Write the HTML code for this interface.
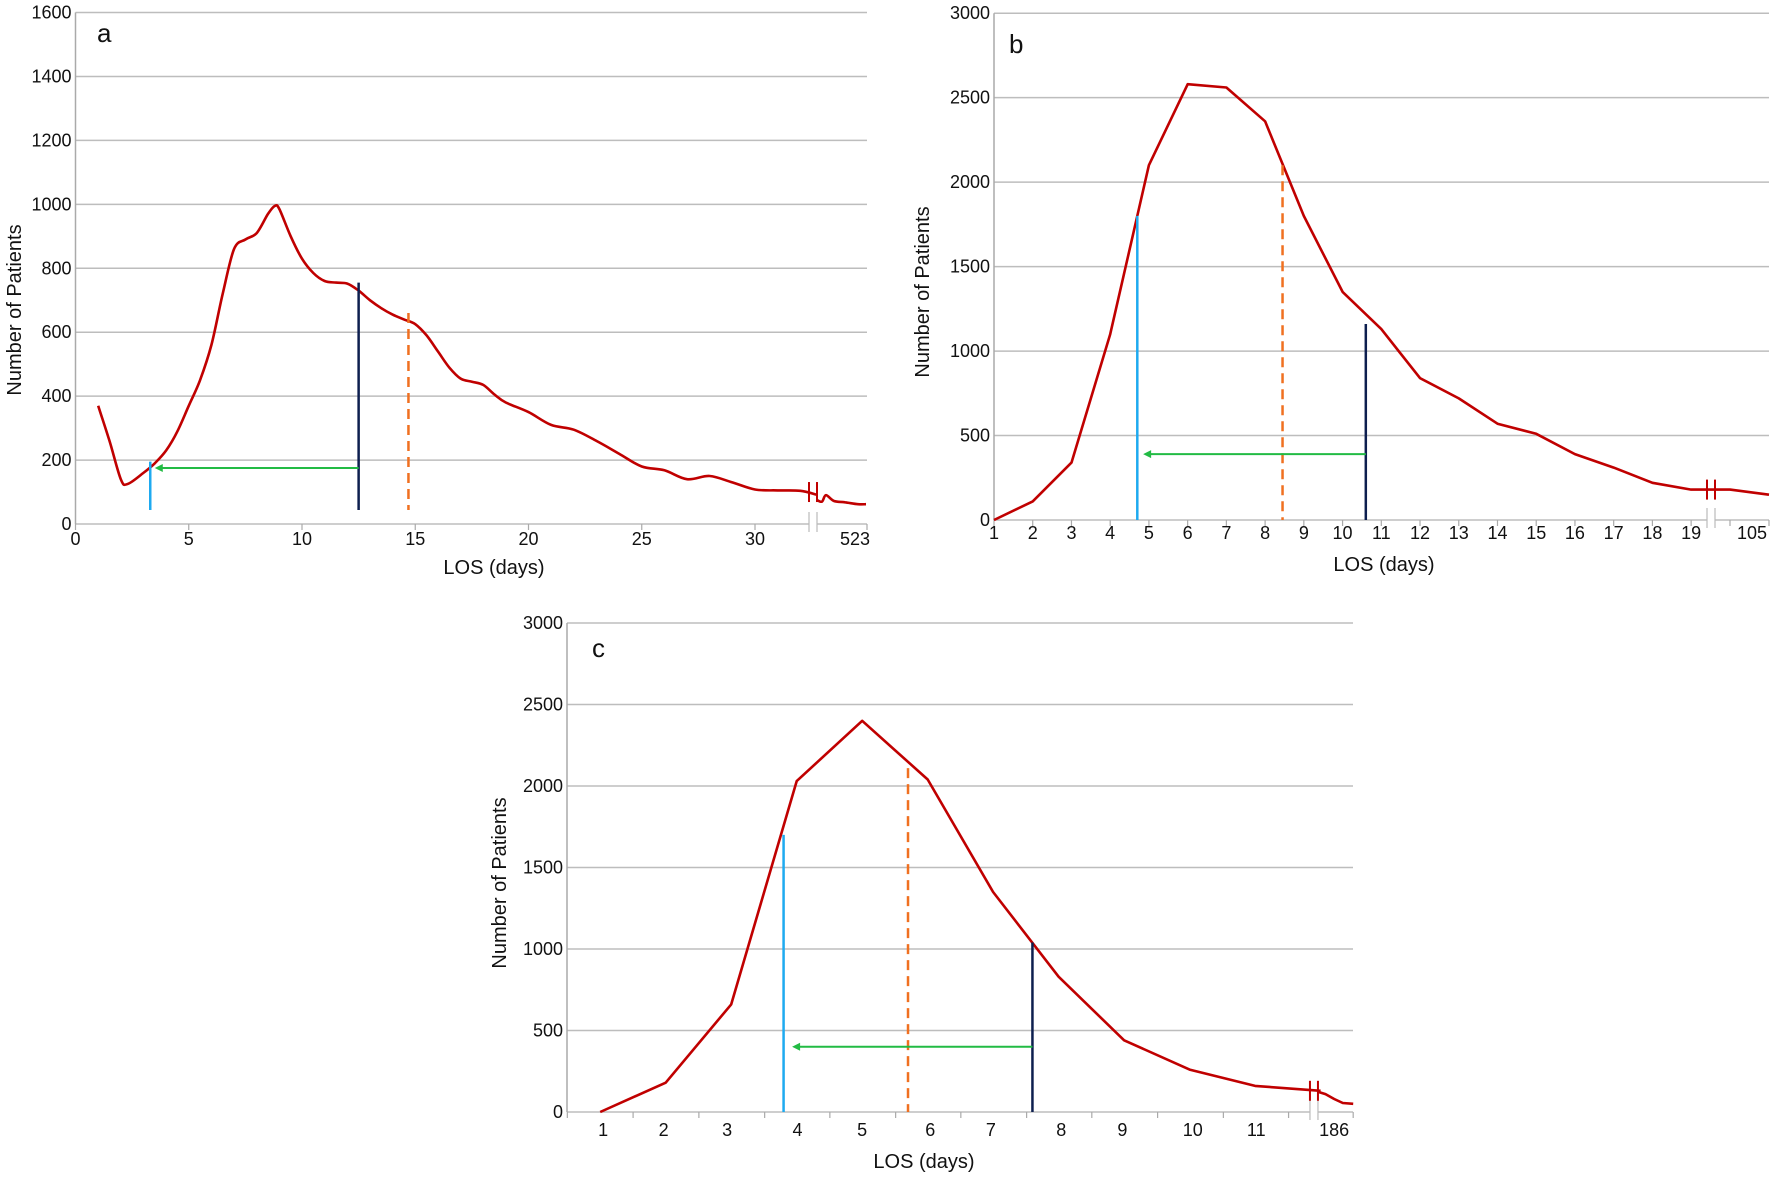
<!DOCTYPE html>
<html><head><meta charset="utf-8">
<style>
html,body{margin:0;padding:0;background:#fff;}
svg{display:block;}
text{font-family:"Liberation Sans Narrow","Liberation Sans",sans-serif;fill:#111;}
</style></head>
<body>
<svg id="s" width="1772" height="1178" viewBox="0 0 1772 1178" xmlns="http://www.w3.org/2000/svg">
<rect width="1772" height="1178" fill="#fff"/>
</svg>
<script>
const S=document.getElementById('s');let h='';
function smooth(a){let d='M'+a[0][0].toFixed(1)+' '+a[0][1].toFixed(1);
  for(let i=0;i<a.length-1;i++){const p0=a[i-1]||a[i],p1=a[i],p2=a[i+1],p3=a[i+2]||p2;
    const c1=[p1[0]+(p2[0]-p0[0])/6,p1[1]+(p2[1]-p0[1])/6],c2=[p2[0]-(p3[0]-p1[0])/6,p2[1]-(p3[1]-p1[1])/6];
    d+=` C${c1[0].toFixed(1)} ${c1[1].toFixed(1)} ${c2[0].toFixed(1)} ${c2[1].toFixed(1)} ${p2[0].toFixed(1)} ${p2[1].toFixed(1)}`;}
  return d;}
function P(c){
  const X=v=>c.xa+(v-c.x0)*c.xs, Y=v=>c.yb-(v/c.ymax)*(c.yb-c.yt);
  for(let v=0;v<=c.ymax;v+=c.ystep){const y=Y(v);
    h+=`<line x1="${c.ax}" y1="${y}" x2="${c.xr}" y2="${y}" stroke="#bdbdbd" stroke-width="1.5"/>`;
    h+=`<text x="${c.ax-4}" y="${y+6}" font-size="18" text-anchor="end">${v}</text>`;}
  h+=`<line x1="${c.ax}" y1="${c.yt}" x2="${c.ax}" y2="${c.yb}" stroke="#aaa" stroke-width="1.5"/>`;
  h+=`<rect x="${c.brk-4}" y="${c.yb-14}" width="8" height="24" fill="#fff"/>`;
  h+=`<line x1="${c.brk-4}" y1="${c.yb-12}" x2="${c.brk-4}" y2="${c.yb+8}" stroke="#bbb" stroke-width="1.2"/><line x1="${c.brk+4}" y1="${c.yb-12}" x2="${c.brk+4}" y2="${c.yb+8}" stroke="#bbb" stroke-width="1.2"/>`;
  c.ticks.forEach(t=>{h+=`<line x1="${t}" y1="${c.yb}" x2="${t}" y2="${c.yb+6}" stroke="#aaa" stroke-width="1.2"/>`;});
  c.labels.forEach(l=>{h+=`<text x="${l[0]}" y="${l[2]||c.yb+24}" font-size="18" text-anchor="middle">${l[1]}</text>`;});
  const pts=c.pts.map(p=>[X(p[0]),Y(p[1])]);
  const pts2=c.pts2.map(p=>[p[0],Y(p[1])]);
  const d=a=>c.sm?smooth(a):a.map((p,i)=>(i?'L':'M')+p[0].toFixed(1)+' '+p[1].toFixed(1)).join(' ');
  h+=`<path d="${d(pts)}" fill="none" stroke="#c00000" stroke-width="2.6" stroke-linejoin="round"/>`;
  h+=`<path d="${d(pts2)}" fill="none" stroke="#c00000" stroke-width="2.6" stroke-linejoin="round"/>`;
  const by=c.brky;
  h+=`<line x1="${c.brk-4}" y1="${Y(by)-10}" x2="${c.brk-4}" y2="${Y(by)+10}" stroke="#c00000" stroke-width="2"/><line x1="${c.brk+4}" y1="${Y(by)-10}" x2="${c.brk+4}" y2="${Y(by)+10}" stroke="#c00000" stroke-width="2"/>`;
  const yl=c.vbot;
  h+=`<line x1="${X(c.cy[0])}" y1="${Y(c.cy[1])}" x2="${X(c.cy[0])}" y2="${yl}" stroke="#1eaaf0" stroke-width="2.5"/>`;
  h+=`<line x1="${X(c.nv[0])}" y1="${Y(c.nv[1])}" x2="${X(c.nv[0])}" y2="${yl}" stroke="#0d1f4f" stroke-width="2.5"/>`;
  h+=`<line x1="${X(c.or[0])}" y1="${Y(c.or[1])}" x2="${X(c.or[0])}" y2="${yl}" stroke="#f07020" stroke-width="2.5" stroke-dasharray="10,6"/>`;
  const ay=Y(c.ar[0]),x1=X(c.nv[0]),x2=X(c.ar[1]);
  h+=`<line x1="${x1}" y1="${ay}" x2="${x2+6}" y2="${ay}" stroke="#22bb44" stroke-width="2"/><path d="M${x2} ${ay} l8 -4 l0 8z" fill="#22bb44"/>`;
  h+=`<text x="${c.lab[0]}" y="${c.lab[1]}" font-size="26">${c.lab[2]}</text>`;
  h+=`<text transform="translate(${c.yt2[0]},${c.yt2[1]}) rotate(-90)" font-size="20" text-anchor="middle" font-family="Liberation Sans">Number of Patients</text>`;
  h+=`<text x="${c.xt[0]}" y="${c.xt[1]}" font-size="20" text-anchor="middle">LOS (days)</text>`;
}
// Panel a
(function(){const xa=75.5,xs=22.65;const t=[],l=[];
for(let v=0;v<=30;v+=5){t.push(xa+v*xs);l.push([xa+v*xs,v,545]);}
t.push(867);l.push([855,523,545]);
P({sm:1,ax:xa,xa,x0:0,xs,xr:867,yt:12.5,yb:524,ymax:1600,ystep:200,brk:813,brky:100,ticks:t,labels:l,
pts:[[1,370],[1.5,260],[2,140],[2.3,125],[3,160],[3.5,190],[4,230],[4.5,290],[5,370],[5.5,450],[6,560],[6.5,720],[7,860],[7.5,890],[8,910],[8.5,970],[8.8,995],[9,985],[9.5,900],[10,830],[10.5,785],[11,760],[11.5,755],[12,752],[12.5,730],[13,700],[13.5,675],[14,655],[14.5,640],[15,625],[15.5,590],[16,540],[16.5,490],[17,455],[17.5,445],[18,435],[18.5,405],[19,380],[20,350],[21,310],[22,295],[23,260],[24,220],[25,180],[26,168],[27,140],[28,150],[29,130],[30,108],[31,105],[32,104],[32.7,92]],
pts2:[[817,75],[822,70],[826,90],[834,72],[845,68],[858,62],[866,62]],
vbot:510,cy:[3.3,195],nv:[12.5,755],or:[14.7,660],ar:[175,3.5],
lab:[97,42,'a'],yt2:[21,310],xt:[494,574]});})();
// Panel b
(function(){const xa=994,xs=38.73;const t=[],l=[];
for(let v=1;v<=19;v++){t.push(xa+(v-1)*xs);l.push([xa+(v-1)*xs,v,539]);}
t.push(1730,1769);l.push([1752,105,539]);
P({ax:xa,xa,x0:1,xs,xr:1769,yt:13.2,yb:520,ymax:3000,ystep:500,brk:1711,brky:180,ticks:t,labels:l,
pts:[[1,0],[2,110],[3,340],[4,1100],[5,2100],[6,2580],[7,2560],[8,2360],[9,1800],[10,1350],[11,1130],[12,840],[13,720],[14,570],[15,510],[16,390],[17,310],[18,220],[19,180],[19.6,180]],
pts2:[[1715,180],[1730,180],[1769,150]],
vbot:520,cy:[4.7,1800],nv:[10.6,1160],or:[8.45,2100],ar:[390,4.85],
lab:[1009,53,'b'],yt2:[929,292],xt:[1384,571]});})();
// Panel c
(function(){const r=0.577,X=z=>460+z*r;const t=[],l=[];
[186,300,414,528,641,755,868,982,1095,1209,1323,1436,1548].forEach(z=>t.push(X(z)));
[[248,1],[353,2],[463,3],[585,4],[697,5],[815,6],[920,7],[1042,8],[1148,9],[1270,10],[1380,11],[1515,186]].forEach(a=>l.push([X(a[0]),a[1],1136]));
P({ax:567,xa:X(243),x0:1,xs:113.5*r,xr:1353,yt:623,yb:1112,ymax:3000,ystep:500,brk:X(1480),brky:130,ticks:t,labels:l,
pts:[[1,0],[2,180],[3,660],[4,2030],[5,2400],[6,2040],[7,1350],[8,830],[9,440],[10,260],[11,160],[12.0,130]],
pts2:[[X(1486),125],[X(1500),110],[X(1515),80],[X(1530),55],[X(1548),50]],
vbot:1112,cy:[3.8,1700],nv:[7.6,1040],or:[5.7,2110],ar:[400,3.93],
lab:[592,657,'c'],yt2:[506,883],xt:[924,1168]});})();
S.innerHTML+=h;
</script>
</body></html>
